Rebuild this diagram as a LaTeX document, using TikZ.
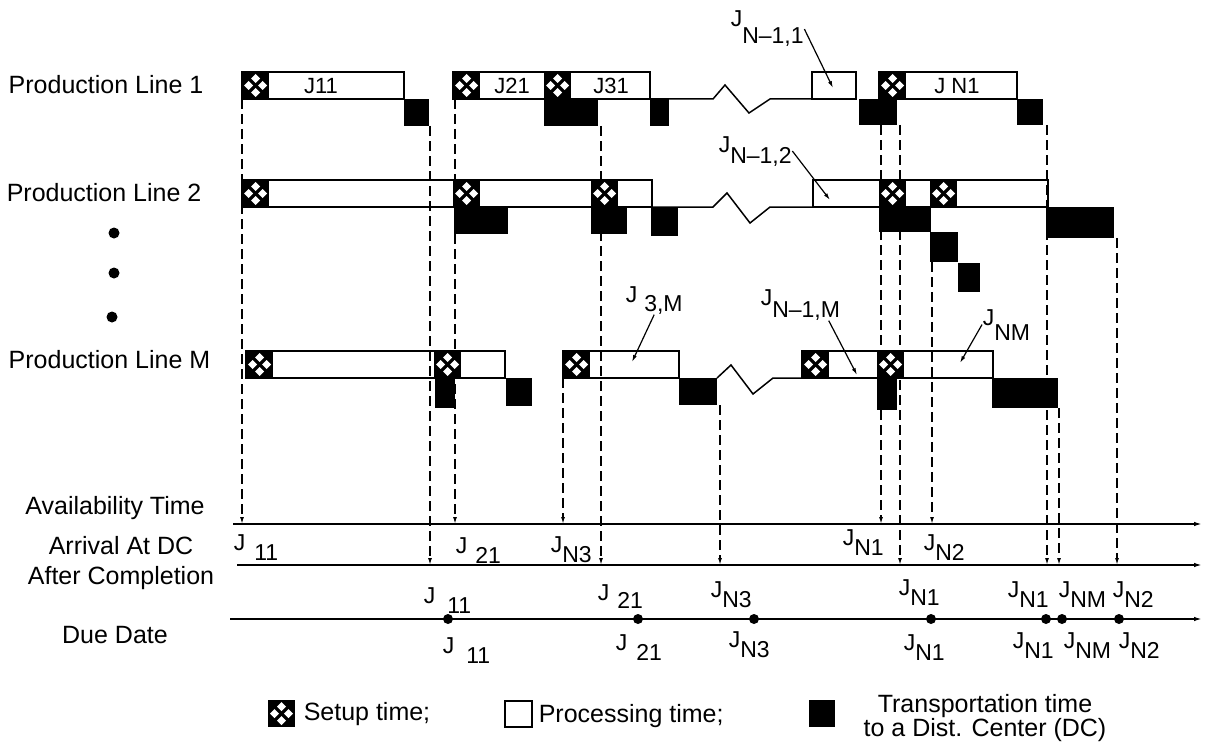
\documentclass[tikz,border=0pt]{standalone}
\usepackage{fontspec}
\setmainfont{Liberation Sans}
\usetikzlibrary{arrows.meta}

% J with a lowered index, as the figure sets it
\newcommand{\jl}[2][10pt]{J\raisebox{-#1}{#2}}

\tikzset{
  setupbox/.pic={
    \fill (0,0) rectangle (27,27);
    \foreach \cx/\cy in {13.5/6.5, 6.5/13.5, 20.5/13.5, 13.5/20.5}
      \fill[white] (\cx,\cy-4.5) -- (\cx+4.5,\cy) -- (\cx,\cy+4.5) -- (\cx-4.5,\cy) -- cycle;
  }
}

\begin{document}
\begin{tikzpicture}[x=1pt, y=-1pt, line width=1.5pt,
  bar/.style={draw, fill=white},
  dline/.style={line width=1.3pt, dash pattern=on 10pt off 5pt, -{Latex[length=7pt,width=4pt]}},
  axis/.style={-{Latex[length=8pt,width=4.5pt]}},
  pin/.style={line width=1.2pt, -{Latex[length=7pt,width=4pt]}},
  lbl/.style={font=\fontsize{25}{30}\selectfont, inner sep=0pt},
  jlbl/.style={font=\fontsize{23}{24}\selectfont, inner sep=0pt, anchor=base west},
  blbl/.style={font=\fontsize{22}{26}\selectfont, inner sep=0pt}]
\useasboundingbox (0,0) rectangle (1209,741);

% row labels
\node[lbl, anchor=west] (pl1) at (8,85) {Production Line 1};
\node[lbl, anchor=west] (pl2) at (6,193) {Production Line 2};
\node[lbl, anchor=west] (plM) at (8,360) {Production Line M};
\foreach \x/\y in {114/233, 114/273, 112/317}
  \fill (\x,\y) circle[radius=5.5pt];

% processing boxes
\draw[bar] (242,72) rectangle (404,99);
\draw[bar] (453,72) rectangle (650,99);
\draw[bar] (812,72) rectangle (856,99);
\draw[bar] (879,72) rectangle (1017,99);
\draw[bar] (242,180) rectangle (652,207);
\draw[bar] (813,180) rectangle (1048,207);
\draw[bar] (246,351) rectangle (505,378);
\draw[bar] (563,351) rectangle (679,378);
\draw[bar] (802,351) rectangle (993,378);
\node[blbl] (j11) at (321,86) {J11};
\node[blbl] (j21) at (512,86) {J21};
\node[blbl] (j31) at (611,86) {J31};
\node[blbl] (jn1) at (957,86) {J N1};

% idle stretch with break
\draw (650,99) -- (713,99) -- (725,85) -- (749,113) -- (770,99) -- (812,99);
\draw (652,207) -- (713,207) -- (727,193) -- (750,223) -- (770,207) -- (813,207);
\draw (717,378) -- (731,365) -- (753,394) -- (773,378) -- (802,378);

% axes
\coordinate (avW) at (233,524); \coordinate (avE) at (1202,524);
\coordinate (arW) at (237,565); \coordinate (arE) at (1202,565);
\coordinate (ddW) at (230,619); \coordinate (ddE) at (1202,619);
\draw[axis] (avW) -- (avE);
\draw[axis] (arW) -- (arE);
\draw[axis] (ddW) -- (ddE);

% availability and arrival
\foreach \x/\y in {242/99, 455/99, 563/378, 881/125, 932/262}
  \draw[dline] (\x,\y) -- (\x,524);
\foreach \x/\y in {430/126, 601/126, 720/405, 900/125, 1047/125, 1059/408, 1117/238}
  \draw[dline] (\x,\y) -- (\x,565);

% setups
\foreach \x/\y in {242/72, 453/72, 544/72, 879/72,
                   242/180, 453/180, 591/180, 879/180, 930/180,
                   246/351, 434/351, 563/351, 802/351, 877/351}
  \pic at (\x,\y) {setupbox};

% transport to DC
\fill (404,99) rectangle (429,126);
\fill (544,99) rectangle (598,126);
\fill (650,99) rectangle (669,126);
\fill (859,99) rectangle (897,125);
\fill (1017,99) rectangle (1043,125);
\fill (454,207) rectangle (508,234);
\fill (591,207) rectangle (627,234);
\fill (651,207) rectangle (678,236);
\fill (879,207) rectangle (931,232);
\fill (930,232) rectangle (958,262);
\fill (958,263) rectangle (980,292);
\fill (1046,207) rectangle (1114,238);
\fill (435,378) rectangle (455,408);
\fill (506,378) rectangle (532,406);
\fill (679,378) rectangle (717,405);
\fill (877,378) rectangle (897,410);
\fill (992,378) rectangle (1058,408);

% job call-outs
\node[jlbl] (lN11) at (730,27) {\jl[17pt]{N--1,1}};
\node[jlbl] (lN12) at (718,152) {\jl[11pt]{N--1,2}};
\node[jlbl] (l3M) at (625,302) {\jl[9pt]{\hspace{7pt}3,M}};
\node[jlbl] (lN1M) at (760,305) {\jl[12pt]{N--1,M}};
\node[jlbl] (lNM) at (982,325) {\jl[15pt]{NM}};
\coordinate (tN11) at (833,88);
\coordinate (tN12) at (830,200);
\coordinate (t3M) at (632,362);
\coordinate (tN1M) at (857,375);
\coordinate (tNM) at (960,363);
\draw[pin] (lN11.east) -- (tN11);
\draw[pin] (lN12.east) -- (tN12);
\draw[pin] (l3M.south) -- (t3M);
\draw[pin] ([xshift=-12pt]lN1M.south east) -- (tN1M);
\draw[pin] (lNM.west) -- (tNM);

% axis names
\node[lbl] (avail) at (115,508) {Availability Time};
\node[lbl, align=center] (arrive) at (121,563) {Arrival At DC\\After Completion};
\node[lbl] (due) at (115,635) {Due Date};

% labels on the time axes
\node[jlbl] (a11) at (233,550) {\jl{\hspace{9pt}11}};
\node[jlbl] (a21) at (455,553) {\jl{\hspace{8pt}21}};
\node[jlbl] (aN3) at (550,552) {\jl{N3}};
\node[jlbl] (aN1) at (842,545) {\jl{N1}};
\node[jlbl] (aN2) at (923,550) {\jl{N2}};

% due dates
\foreach \x in {448, 638, 754, 931, 1046, 1062, 1119}
  \fill (\x,619) circle[radius=5pt];
\node[jlbl] (d11) at (423,603) {\jl{\hspace{12pt}11}};
\node[jlbl] (d21) at (597,600) {\jl[8pt]{\hspace{8pt}21}};
\node[jlbl] (dN3) at (710,597) {\jl{N3}};
\node[jlbl] (dN1) at (898,595) {\jl{N1}};
\node[jlbl] (dN1b) at (1007,597) {\jl{N1}};
\node[jlbl] (dNM) at (1058,597) {\jl{NM}};
\node[jlbl] (dN2) at (1112,597) {\jl{N2}};
\node[jlbl] (e11) at (442,653) {\jl{\hspace{12pt}11}};
\node[jlbl] (e21) at (615,650) {\jl{\hspace{9pt}21}};
\node[jlbl] (eN3) at (728,647) {\jl{N3}};
\node[jlbl] (eN1) at (903,650) {\jl{N1}};
\node[jlbl] (eN1b) at (1012,648) {\jl{N1}};
\node[jlbl] (eNM) at (1063,648) {\jl{NM}};
\node[jlbl] (eN2) at (1118,648) {\jl{N2}};

% legend
\pic at (268,700) {setupbox};
\node[lbl, anchor=west] (lgS) at (303,714) {Setup time;};
\draw[bar] (505,701) rectangle (532,727);
\node[lbl, anchor=west] (lgP) at (538,716) {Processing time;};
\fill (809,700) rectangle (835,727);
\node[lbl, align=center, font=\fontsize{25}{22}\selectfont] (lgT) at (985,718)
  {Transportation time\\to a Dist. Center (DC)};
\end{tikzpicture}
\end{document}
